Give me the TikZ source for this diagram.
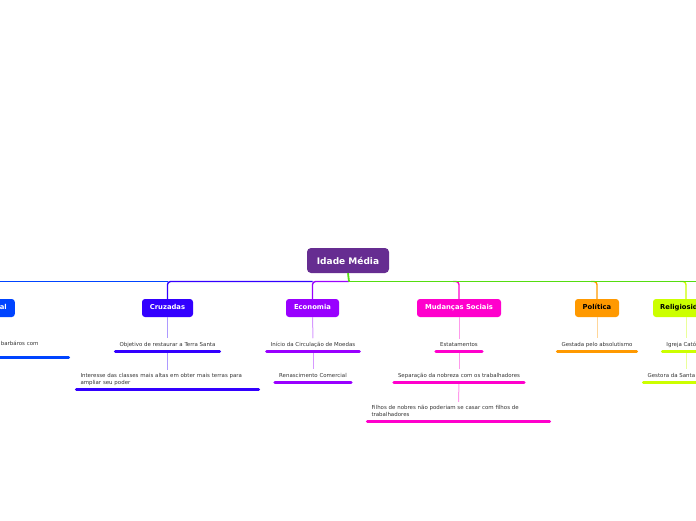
\documentclass[tikz,border=0pt]{standalone}
\usepackage{fontspec}
\setmainfont{DejaVu Sans}
\definecolor{rootc}{HTML}{662D91}
\definecolor{feuc}{HTML}{0044FF}
\definecolor{cruc}{HTML}{3300FF}
\definecolor{ecoc}{HTML}{9900FF}
\definecolor{mudc}{HTML}{FF00CC}
\definecolor{polc}{HTML}{FF9900}
\definecolor{relc}{HTML}{CCFF00}
\definecolor{grnc}{HTML}{55DD11}
\tikzset{
  rootbox/.style={fill=rootc, draw=none, rounded corners=4pt, minimum width=82pt, minimum height=25pt, inner sep=0pt, text=white, font=\fontsize{9}{10}\selectfont\bfseries},
  branchbox/.style={fill=#1, draw=none, rounded corners=3pt, minimum height=18pt, inner sep=0pt, text height=5pt, text depth=1.4pt, text=white, font=\fontsize{6.8}{8}\selectfont\bfseries},
  leaf/.style={anchor=south, inner xsep=4pt, inner ysep=3.3pt, text depth=1.4pt, font=\fontsize{5.45}{6.6}\selectfont, text=black!80},
  wide/.style={text width=174pt, align=left, text depth=8pt},
  ul/.style={draw=#1, line width=3pt, line cap=round},
  conn/.style={draw=#1, line width=1.4pt, rounded corners=3pt},
  subconn/.style={draw=#1!40, line width=1pt},
  mainline/.style={draw=grnc, line width=1.5pt},
}
\begin{document}
\begin{tikzpicture}[x=1pt,y=-1pt]
\useasboundingbox (0,0) rectangle (696,520);
% root and hub
\node[rootbox] (root) at (348,260.5) {Idade Média};
\coordinate (hub) at (349,281.5);
\coordinate (rightend) at (696,281.5);
\coordinate (leftend) at (0,281.5);
% branches
\node[branchbox=feuc, minimum width=75pt, anchor=east] (feu) at (15,308) {Sistema Feudal};
\node[branchbox=cruc, minimum width=51pt] (cru) at (167.5,308) {Cruzadas};
\node[branchbox=ecoc, minimum width=53pt] (eco) at (312.5,308) {Economia};
\node[branchbox=mudc, minimum width=84pt] (mud) at (459,308) {Mudanças Sociais};
\node[branchbox=polc, minimum width=44pt, text=black] (pol) at (597,308) {Política};
\node[branchbox=relc, minimum width=66pt, text=black] (rel) at (686,308) {Religiosidade};
% connectors root -> branches (left side, no overlap)
\draw[conn=feuc] (cru.north |- hub) -- (leftend);
\draw[conn=cruc] (eco.north |- hub) -| (cru.north);
\draw[conn=ecoc] (hub) -| (eco.north);
% right side: drops, then the green main line on top
\draw[conn=mudc] ([xshift=-6pt]mud.north |- hub) -| (mud.north);
\draw[conn=polc] ([xshift=-6pt]pol.north |- hub) -| (pol.north);
\draw[conn=relc] ([xshift=-6pt]rel.north |- hub) -| (rel.north);
\draw[mainline] (hub) -- (rightend);
\draw[mainline, line width=1.8pt] (root.south) -- (hub);
% Feudal leaf
\node[leaf, wide, align=right] (f1) at (-22.5,357) {\mbox{barbáros com\kern26pt}\\\mbox{}};
\draw[ul=feuc] (f1.south west) -- (f1.south east);
% Cruzadas leaves
\node[leaf] (c1) at (167.5,351) {Objetivo de restaurar a Terra Santa};
\node[leaf, wide] (c2) at (167.5,389) {Interesse das classes mais altas em obter mais terras para\\ampliar seu poder};
\draw[subconn=cruc] (cru.south) -- (c1.north);
\draw[subconn=cruc] (c1.south) -- (c2.north);
\draw[ul=cruc] (c1.south west) -- (c1.south east);
\draw[ul=cruc] (c2.south west) -- (c2.south east);
% Economia leaves
\node[leaf] (e1) at (313,351) {Início da Circulação de Moedas};
\node[leaf] (e2) at (313,382) {Renascimento Comercial};
\draw[subconn=ecoc] (eco.south) -- (e1.north);
\draw[subconn=ecoc] (e1.south) -- (e2.north);
\draw[ul=ecoc] (e1.south west) -- (e1.south east);
\draw[ul=ecoc] (e2.south west) -- (e2.south east);
% Mudancas Sociais leaves
\node[leaf] (m1) at (459,351) {Estatamentos};
\node[leaf] (m2) at (459,382) {Separação da nobreza com os trabalhadores};
\node[leaf, wide] (m3) at (458.5,421) {Filhos de nobres não poderiam se casar com filhos de\\trabalhadores};
\draw[subconn=mudc] (mud.south) -- (m1.north);
\draw[subconn=mudc] (m1.south) -- (m2.north);
\draw[subconn=mudc] (m2.south) -- (m3.north);
\draw[ul=mudc] (m1.south west) -- (m1.south east);
\draw[ul=mudc] (m2.south west) -- (m2.south east);
\draw[ul=mudc] (m3.south west) -- (m3.south east);
% Politica leaf
\node[leaf] (p1) at (597,351) {Gestada pelo absolutismo};
\draw[subconn=polc] (pol.south) -- (p1.north);
\draw[ul=polc] (p1.south west) -- (p1.south east);
% Religiosidade leaves
\node[leaf] (r1) at (686,351) {Igreja Católica};
\node[leaf] (r2) at (686,382) {Gestora da Santa Inquisição};
\draw[subconn=relc] (rel.south) -- (r1.north);
\draw[subconn=relc] (r1.south) -- (r2.north);
\draw[ul=relc] (r1.south west) -- (r1.south east);
\draw[ul=relc] (r2.south west) -- (r2.south east);
\end{tikzpicture}
\end{document}
